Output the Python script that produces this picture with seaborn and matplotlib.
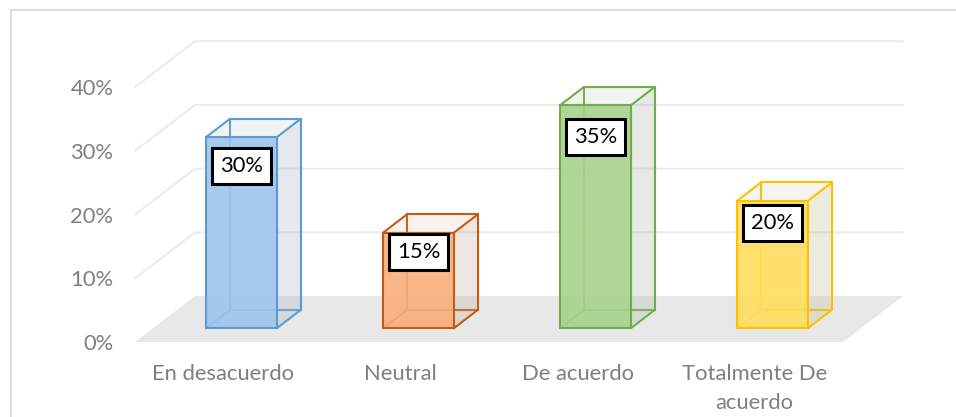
import numpy as np
import pandas as pd
import matplotlib
matplotlib.use("Agg")
import matplotlib.pyplot as plt
import seaborn as sns
from matplotlib.patches import Polygon, Rectangle
from matplotlib.lines import Line2D
from matplotlib.transforms import Affine2D
from matplotlib.colors import to_rgb

# ---------------- data ----------------
categories = ["En desacuerdo", "Neutral", "De acuerdo", "Totalmente De\nacuerdo"]
values = [30, 15, 35, 20]
value_labels = ["30%", "15%", "35%", "20%"]
y_ticks = [0, 10, 20, 30, 40]
y_tick_labels = ["0%", "10%", "20%", "30%", "40%"]

edge_colors = ["#5b9bd5", "#c55a11", "#70ad47", "#ffc000"]
face_colors = ["#9cc5ec", "#f8ae7c", "#a8d18d", "#ffdd5c"]

# ---------------- style ----------------
sns.set_theme(style="white")
plt.rcParams["font.family"] = ["Lato", "DejaVu Sans"]
TEXT_GREY = "#7f7f7f"
GRID = "#eaeaea"
FLOOR = "#e8e8e8"
FS = 15.8

W, H = 956, 417
fig = plt.figure(figsize=(W / 100, H / 100), dpi=100)
# front plane of the 3D box
ax_l, ax_r, ax_b, ax_t = 135, 843, 342, 87.2
ax = fig.add_axes([ax_l / W, (H - ax_b) / H, (ax_r - ax_l) / W, (ax_b - ax_t) / H])
ax.set_facecolor("none")

df = pd.DataFrame({"categoria": categories, "valor": values})
sns.barplot(data=df, x="categoria", y="valor", hue="categoria", palette=face_colors,
            saturation=1, width=0.4, legend=False, ax=ax, linewidth=0)
ax.set_xlim(-0.5, 3.5)
ax.set_ylim(0, 40)

# depth vector (full depth of the floor) in data units
px_per_x = (ax_r - ax_l) / 4.0
px_per_y = (ax_b - ax_t) / 40.0
DX = 60 / px_per_x
DY = 46 / px_per_y
D0, D1 = 0.3, 0.7


def P(x, y, d):
    return (x + d * DX, y + d * DY)


# floor
ax.add_patch(Polygon([P(-0.5, 0, 0), P(3.5, 0, 0), P(3.5, 0, 1), P(-0.5, 0, 1)],
                     closed=True, fc=FLOOR, ec="none", zorder=0, clip_on=False))
# gridlines: left wall + back wall
for v in y_ticks[1:]:
    pts = [P(-0.5, v, 0), P(-0.5, v, 1), P(3.5, v, 1)]
    ax.add_line(Line2D([p[0] for p in pts], [p[1] for p in pts], color=GRID,
                       lw=1.4, zorder=0.5, clip_on=False))

bars = sorted([p for p in ax.patches if isinstance(p, Rectangle)], key=lambda p: p.get_x())
shift = Affine2D().translate(D0 * DX, D0 * DY) + ax.transData


def blend(c, other, t):
    c = np.array(to_rgb(c))
    o = np.array(to_rgb(other))
    return tuple(c * (1 - t) + o * t)


for i, bar in enumerate(bars):
    ec = edge_colors[i]
    x0 = bar.get_x()
    x1 = x0 + bar.get_width()
    h = bar.get_height()
    base_z = 2 + i * 0.01
    c = {}
    for xi, xv in (("l", x0), ("r", x1)):
        for yi, yv in (("b", 0), ("t", h)):
            for di, dv in (("f", D0), ("k", D1)):
                c[xi + yi + di] = P(xv, yv, dv)
    # hidden edges (behind the front face)
    hidden = [("lbk", "rbk"), ("lbk", "ltk"), ("lbf", "lbk")]
    for a, b in hidden:
        ax.add_line(Line2D([c[a][0], c[b][0]], [c[a][1], c[b][1]], color=ec, lw=1.5,
                           zorder=base_z, clip_on=False, solid_capstyle="round"))
    side = blend(face_colors[i], "#a6a6a6", 0.7)
    ax.add_patch(Polygon([c["rbf"], c["rbk"], c["rtk"], c["rtf"]], closed=True,
                         fc=side, alpha=0.28, ec="none", zorder=base_z + 0.001, clip_on=False))
    ax.add_patch(Polygon([c["ltf"], c["rtf"], c["rtk"], c["ltk"]], closed=True,
                         fc=side, alpha=0.15, ec="none", zorder=base_z + 0.001, clip_on=False))
    # front face: the seaborn bar, moved to its depth
    bar.set_transform(shift)
    bar.set_alpha(0.9)
    bar.set_zorder(base_z + 0.002)
    bar.set_clip_on(False)
    visible = [("lbf", "rbf"), ("rbf", "rtf"), ("rtf", "ltf"), ("ltf", "lbf"),
               ("rbf", "rbk"), ("rbk", "rtk"), ("rtk", "ltk"), ("rtf", "rtk"), ("ltf", "ltk")]
    for a, b in visible:
        ax.add_line(Line2D([c[a][0], c[b][0]], [c[a][1], c[b][1]], color=ec, lw=1.5,
                           zorder=base_z + 0.003, clip_on=False, solid_capstyle="round"))
    # data label
    xc = (x0 + x1) / 2 + D0 * DX
    yc = D0 * DY + 0.9 * h - 1.5
    ax.text(xc, yc, value_labels[i], ha="center", va="center", fontsize=FS, color="black",
            zorder=5, bbox=dict(boxstyle="square,pad=0.36", fc="white", ec="black", lw=2.2))

# axes, ticks
for s in ax.spines.values():
    s.set_visible(False)
ax.set_xlabel("")
ax.set_ylabel("")
ax.set_yticks(y_ticks, y_tick_labels)
ax.set_xticks(range(len(categories)), categories)
ax.tick_params(axis="y", length=0, pad=15.5, labelsize=FS, labelcolor=TEXT_GREY)
ax.tick_params(axis="x", length=0, pad=16, labelsize=FS, labelcolor=TEXT_GREY)
for t in ax.get_xticklabels():
    t.set_linespacing(1.55)
ax.grid(False)

# chart border
fig.add_artist(Rectangle((11 / W, -0.05), 1.0, 1 - 10 / H + 0.05, transform=fig.transFigure,
                         fill=False, ec="#d9d9d9", lw=1.3))

fig.savefig("out.png", dpi=100, facecolor="white")
